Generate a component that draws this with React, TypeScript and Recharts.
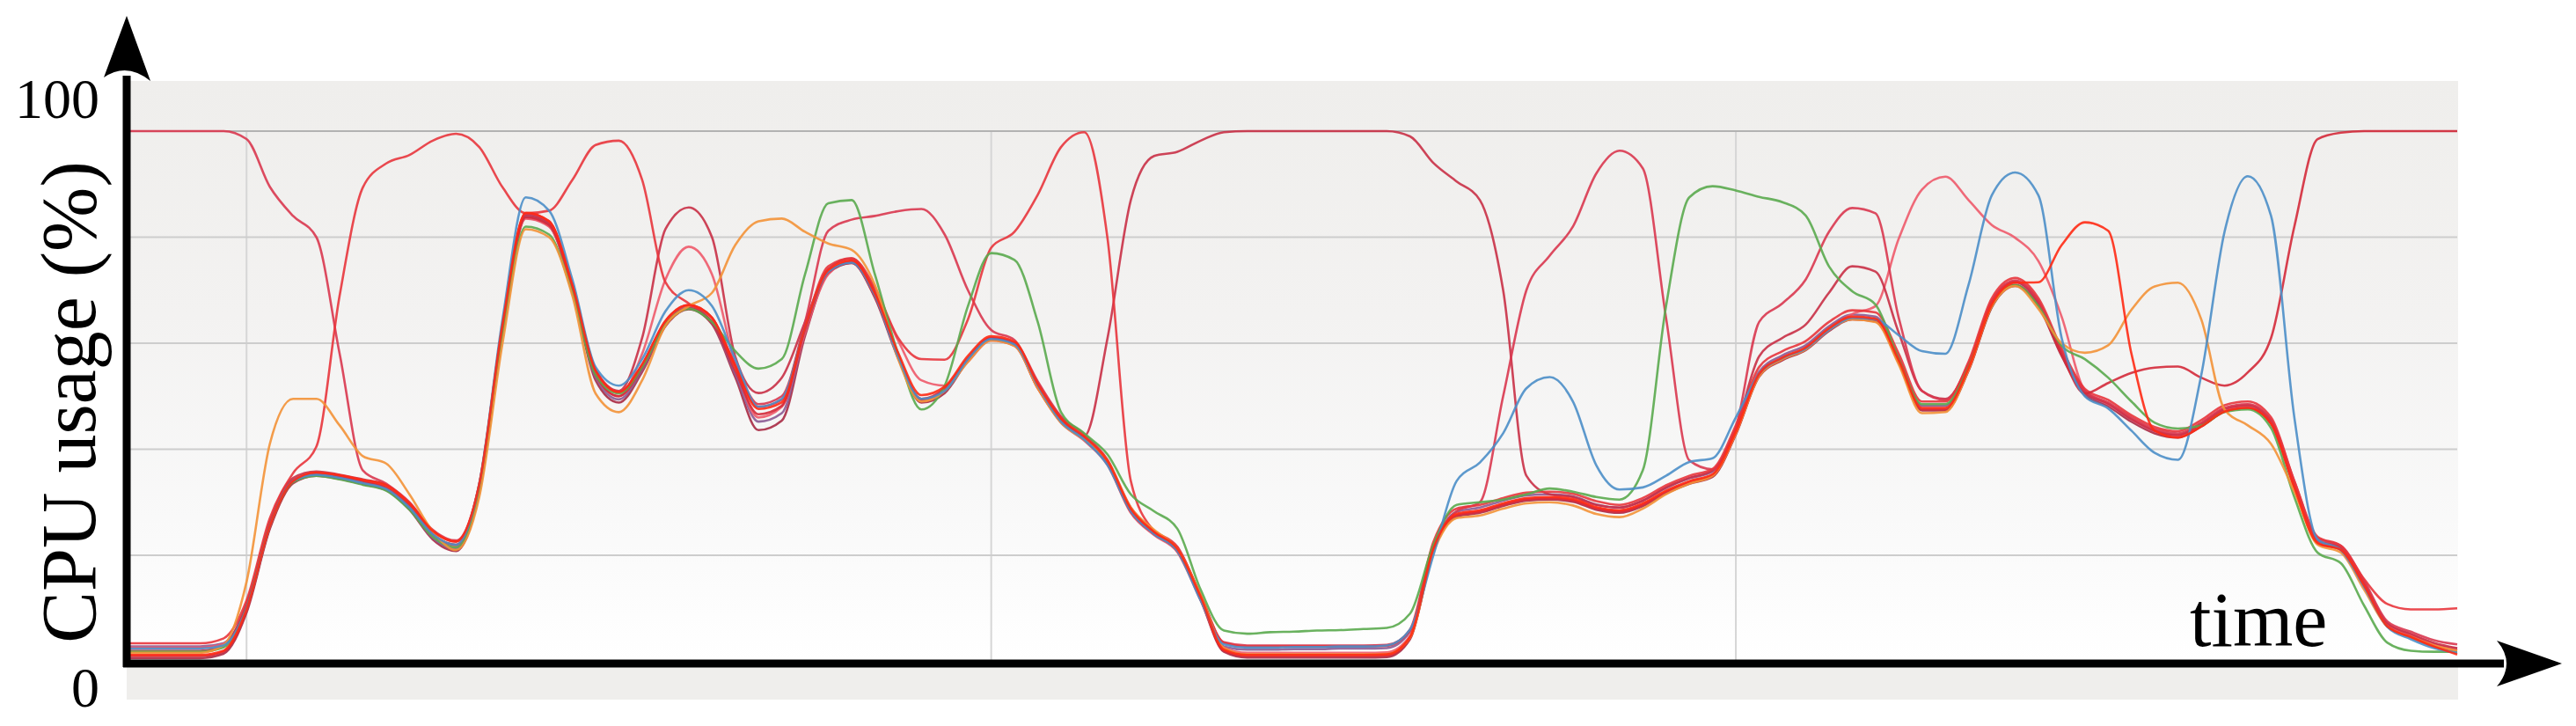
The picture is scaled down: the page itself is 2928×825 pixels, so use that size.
import { Line, LineChart, ReferenceLine, XAxis, YAxis } from "recharts";

// time index (0..100), vertical grid at 5 / 37 / 69
const time = Array.from({ length: 101 }, (_, i) => i);
const timeTicks = [5, 37, 69];
const usageTicks = [20, 40, 60, 80];

const blue = [
  2.4, 2.4, 2.4, 2.4, 3, 10, 25.5, 34, 35.2, 34.6,
  33.6, 32.5, 29, 24, 22, 33.5, 64.5, 87.5, 85, 72,
  55.5, 52, 57, 66, 70, 67, 57, 48, 49.5, 63,
  73.5, 75.2, 69, 57.5, 49.5, 51, 57, 60.8, 59.8, 52,
  45.2, 41.8, 37, 28.3, 24, 20.8, 11.5, 3.2, 2.6, 2.6,
  2.7, 2.7, 2.8, 2.8, 3, 6, 20, 34, 37.5, 43,
  51.5, 53.6, 49, 37, 32.4, 32.8, 35, 37.6, 38.3, 46,
  54.2, 57.2, 59, 62.5, 64.8, 64.5, 61.5, 58.5, 58, 71,
  87.9, 92.2, 87.9, 61, 50, 47.7, 43.5, 39.3, 38, 54,
  81, 91.5, 84, 46, 23, 21, 14, 6.5, 4.2, 2.5, 1.6,
];

const orange = [
  1.6, 1.6, 1.6, 1.6, 3, 15, 41, 49.5, 49.5, 44.5,
  38.7, 37.3, 31.5, 24.5, 21, 31, 60, 81.5, 80, 69,
  50.5, 47, 53, 63.3, 67, 69.5, 78.5, 83, 83.5, 81,
  78.8, 77.6, 71, 57, 49, 51, 56.5, 60.5, 59.5, 51.5,
  45, 41.8, 37.8, 29, 24.8, 21.2, 12.5, 2.5, 1.3, 1.3,
  1.3, 1.3, 1.3, 1.3, 1.4, 4.5, 20.5, 27, 27.5, 28.8,
  29.8, 30, 29.4, 27.8, 27.2, 28.8, 31.5, 33.5, 35, 43,
  53.8, 57, 58.8, 62.5, 64.5, 64, 56, 46.8, 47, 55,
  67, 70.8, 66.5, 60, 58.2, 59.6, 66.3, 70.7, 71.4, 64.5,
  47.5, 44.5, 41, 32, 22, 20.5, 13.5, 6.5, 4.6, 3, 2,
];

const green = [
  1.8, 1.8, 1.8, 1.8, 2.6, 10, 25.5, 33.8, 35, 34.3,
  33.3, 32.2, 28.6, 23.5, 21.5, 32, 61.5, 82, 80.5, 69.5,
  54, 50.5, 55.5, 63.5, 66.5, 64, 58.5, 55.2, 57, 73,
  86.4, 87, 73, 58, 47.5, 52, 67, 77, 75.7, 64,
  47, 43, 39, 31.5, 28.3, 25, 13.5, 5.8, 5.2, 5.5,
  5.6, 5.8, 5.9, 6.1, 6.3, 9, 22, 29.5, 30, 30.5,
  31.5, 32.6, 32, 31, 30.5, 36, 67, 87.5, 89.6, 88.8,
  87.6, 86.6, 84.1, 74.5, 69.8, 67.3, 57, 48.5, 48.5, 55.5,
  67, 71, 67, 59.5, 57, 53.5, 49, 45, 43.9, 44.5,
  47, 47.5, 44, 31, 20.5, 18.5, 10.5, 3.5, 2, 1.8, 1.8,
];

const redA = [
  100, 100, 100, 100, 100, 98.5, 89.5, 84, 80, 58,
  36, 33.5, 30, 24.8, 22.8, 33.5, 63.5, 84.5, 83, 71,
  55, 50.8, 56, 64.2, 67.2, 64.8, 56, 48.5, 50, 64,
  81.2, 83.3, 84, 84.9, 85.3, 80.5, 70, 62.5, 60.6, 52.8,
  46.2, 42.8, 38, 29, 24.6, 21.6, 12.5, 3.6, 3, 3,
  3, 3, 3, 3, 3.1, 5.8, 21.8, 28.3, 30, 50,
  70, 76.5, 82, 92, 96.3, 93, 64.8, 37.9, 36.2, 44,
  64, 67.5, 72, 81, 85.5, 84.5, 64.8, 51, 49.3, 56,
  68, 71.8, 68, 58.5, 51, 48.8, 46, 43.8, 43, 45,
  47.8, 48.5, 45.5, 34, 23.2, 21.8, 15.2, 7.5, 5.6, 4, 3.2,
];

const redB = [
  3.4, 3.4, 3.4, 3.4, 4.3, 11.5, 27, 35.5, 40.5, 69,
  89.4, 93.9, 95.5, 98.2, 99.5, 97, 89.4, 84.5, 85, 90.8,
  97.4, 98.2, 90.8, 71.5, 67.5, 64.8, 55.8, 48, 49.3, 63.2,
  74.5, 76, 70.5, 61, 57, 56.9, 64.5, 78, 81, 88,
  97, 99.8, 79.7, 34, 24.5, 21.5, 12.5, 3.5, 2.8, 2.8,
  2.8, 2.8, 2.8, 2.8, 2.9, 6, 22.5, 28.8, 29.5, 30.8,
  31.8, 32, 31.6, 30.2, 29.5, 30.8, 33.2, 35, 36.3, 44.5,
  55.5, 58.5, 60.4, 64, 66.2, 65.8, 58, 49, 49, 56.5,
  68.5, 72.3, 68.5, 59, 51.4, 49.3, 46.4, 44.2, 43.4, 45.5,
  48.3, 49, 46, 34, 23.5, 21.8, 15.5, 10.8, 9.8, 9.8, 10,
];

const redC = [
  2, 2, 2, 2, 2.9, 10.8, 26.3, 34.6, 35.8, 35.2,
  34.3, 33.3, 29.8, 24.6, 22.6, 33.3, 63.3, 84.3, 82.8, 71,
  55, 51, 61, 81.5, 85.6, 80, 57.5, 50.6, 53.5, 64,
  74, 76, 69.5, 57.5, 49.5, 51.5, 57, 61, 60, 52.5,
  46, 42.5, 61, 87, 95.3, 96.1, 98.2, 99.8, 100, 100,
  100, 100, 100, 100, 100, 99, 94, 90.5, 87, 70,
  35, 31.5, 31, 29.5, 29, 30.3, 32.8, 34.6, 36, 44,
  57.5, 61, 63.5, 69.5, 74.5, 73.5, 62, 51, 49.5, 56,
  67.8, 71.6, 67.8, 58.3, 50.7, 48.6, 45.7, 43.5, 42.7, 44.8,
  47.6, 48.3, 45.3, 33.3, 22.8, 21.5, 14.8, 7.2, 5.2, 3.5, 2.5,
];

const redD = [
  2.6, 2.6, 2.6, 2.6, 3.3, 10.2, 25.8, 34, 35.3, 34.6,
  33.7, 32.7, 29.2, 23.8, 21.7, 32.5, 62.5, 83.5, 82, 70.3,
  54, 50, 58, 72, 78.2, 73, 56, 46, 48, 62,
  73, 75.5, 70, 60.5, 53, 52, 56.5, 60.5, 59.5, 51.5,
  45, 41.6, 37, 28, 23.8, 20.6, 11.5, 2.6, 1.6, 1.6,
  1.6, 1.6, 1.6, 1.6, 1.7, 4.8, 21, 27.6, 28.3, 29.6,
  30.6, 30.8, 30.4, 28.9, 28.3, 29.6, 32, 33.8, 35.1, 43,
  54, 57.1, 59, 62.6, 65.5, 67, 79.7, 89, 91.4, 87,
  82.3, 79.9, 75.5, 65, 51, 48.5, 45.6, 43.4, 42.6, 44.7,
  47.5, 48.2, 45.2, 33.2, 22.7, 21.4, 14.7, 7, 5, 3.2, 2.2,
];

const redE = [
  1.2, 1.2, 1.2, 1.2, 2, 9.8, 25.5, 34, 35.6, 35.1,
  34.2, 33.2, 29.8, 24.6, 22.6, 33.4, 63.5, 84.6, 83, 71,
  54.8, 50.8, 56, 64.2, 67.2, 64.8, 55.6, 47.6, 48.8, 63,
  73.8, 75.6, 69.4, 58.2, 50.2, 51.8, 57.6, 61.3, 60.3, 52.3,
  45.8, 42.4, 37.8, 28.8, 24.4, 21.2, 12.2, 2.2, 1.2, 1.2,
  1.2, 1.2, 1.2, 1.2, 1.3, 4.6, 21.2, 27.8, 28.5, 29.8,
  30.8, 31, 30.6, 29.1, 28.5, 29.8, 32.2, 34, 35.3, 43.3,
  54.2, 57.3, 59.2, 62.8, 65, 64.6, 56.8, 47.8, 47.8, 55.3,
  67.3, 71.4, 71.5, 78.5, 82.8, 81.2, 58, 43.5, 42.2, 44.3,
  47.1, 47.8, 44.8, 32.8, 22.3, 21, 14.3, 6.6, 4.6, 2.8, 1.3,
];

const redH = [
  1, 1, 1, 1, 1.8, 9.6, 25.2, 33.8, 35.3, 34.8,
  33.9, 32.8, 29.3, 24, 22, 32.8, 62.8, 83.8, 82.3, 70.4,
  54, 50, 55.4, 63.6, 66.6, 64, 54.8, 46.6, 48.2, 62.6,
  73.4, 75.2, 68.8, 57.6, 49.3, 51, 56.9, 60.7, 59.7, 51.6,
  45.2, 41.8, 37.2, 28.2, 24, 20.8, 11.8, 2, 1, 1,
  1, 1, 1, 1, 1.1, 4.4, 21, 27.5, 28.2, 29.5,
  30.5, 30.7, 30.3, 28.8, 28.2, 29.5, 31.9, 33.7, 35, 43,
  53.9, 57, 58.9, 62.5, 64.7, 64.3, 56.5, 47.5, 47.5, 55,
  67, 71, 67.2, 57.8, 50.5, 52.5, 54.4, 55.4, 55.6, 53.5,
  52, 54.5, 61, 82, 98.5, 99.7, 100, 100, 100, 100, 100,
];

const purple = [
  2.8, 2.8, 2.8, 2.8, 3.4, 10.4, 25.8, 34.2, 35.4, 34.8,
  33.8, 32.6, 28.8, 23.3, 21.2, 32.4, 62.8, 84, 82.6, 70.5,
  53.6, 49.4, 55, 63.6, 66.8, 64, 54.2, 45.2, 46.8, 62,
  73.4, 75.3, 69, 57.6, 49.4, 51.2, 57.2, 61, 60, 52,
  45.6, 42.2, 37.6, 28.6, 24.3, 21.1, 11.8, 2.8, 2.2, 2.2,
  2.3, 2.3, 2.4, 2.4, 2.5, 5.6, 21.6, 28.2, 29, 30.3,
  31.3, 31.5, 31.1, 29.6, 29, 30.3, 32.7, 34.5, 35.8, 43.8,
  54.6, 57.7, 59.6, 63.2, 65.4, 65, 57.2, 48.2, 48.2, 55.7,
  67.7, 71.5, 67.7, 58.2, 50.6, 48.5, 45.6, 43.4, 42.6, 44.7,
  47.5, 48.2, 45.2, 33.2, 22.7, 21.4, 14.7, 7, 5, 3.2, 2.4,
];

const darkRed = [
  0.6, 0.6, 0.6, 0.6, 1.4, 9.2, 25, 33.6, 35, 34.4,
  33.4, 32.3, 28.6, 23, 20.8, 32, 62.4, 83.6, 82.1, 70,
  53, 48.8, 54.6, 63.2, 66.4, 63.6, 53.6, 43.6, 45.4, 61.4,
  73.2, 75.1, 68.6, 57.2, 48.8, 50.6, 56.7, 60.6, 59.6, 51.6,
  45.3, 41.9, 37.3, 28.3, 24.1, 20.9, 11.6, 1.8, 0.7, 0.7,
  0.7, 0.7, 0.7, 0.7, 0.8, 4.2, 20.8, 27.3, 28, 29.3,
  30.3, 30.5, 30.1, 28.6, 28, 29.3, 31.7, 33.5, 34.8, 42.8,
  53.7, 56.8, 58.7, 62.3, 64.5, 64.1, 56.3, 47.3, 47.3, 54.8,
  66.8, 70.8, 67, 57.6, 50.2, 48.1, 45.2, 43, 42.2, 44.3,
  47.1, 47.8, 44.8, 32.8, 22.3, 21, 14.3, 6.6, 4.6, 2.8, 2,
];

const series = [
  { key: "darkRed", values: darkRed, color: "#a92a44" },
  { key: "purple", values: purple, color: "#8b5a94" },
  { key: "redD", values: redD, color: "#ee5a6a" },
  { key: "redC", values: redC, color: "#c93046" },
  { key: "redA", values: redA, color: "#d9374f" },
  { key: "redB", values: redB, color: "#e8353c" },
  { key: "redH", values: redH, color: "#d42a3a" },
  { key: "green", values: green, color: "#5aaa4e" },
  { key: "orange", values: orange, color: "#f39237" },
  { key: "blue", values: blue, color: "#4b8ec8" },
  { key: "redE", values: redE, color: "#ff2a14" },
];

const rows = time.map((t, i) => {
  const row: Record<string, number> = { t };
  series.forEach((s) => {
    row[s.key] = s.values[i];
  });
  return row;
});

const serif = '"Liberation Serif", "Times New Roman", serif';

export default function App() {
  return (
    <div style={{ position: "absolute", left: 0, top: 0, width: 2928, height: 825, background: "#fff" }}>
      {/* panel background */}
      <div
        style={{
          position: "absolute",
          left: 144,
          top: 92,
          width: 2650,
          height: 662,
          background: "linear-gradient(#efeeec 0%, #f3f2f1 40%, #f9f9f9 75%, #ffffff 100%)",
        }}
      />
      <div style={{ position: "absolute", left: 144, top: 754, width: 2650, height: 41, background: "#efeeec" }} />

      <div style={{ position: "absolute", left: 0, top: 0 }}>
        <LineChart width={2928} height={825} data={rows} margin={{ top: 149, right: 135, bottom: 73.5, left: 148 }}>
          <XAxis
            dataKey="t"
            type="number"
            domain={[0, 100]}
            ticks={timeTicks}
            height={0}
            tick={false}
            axisLine={false}
            tickLine={false}
          />
          <YAxis domain={[0, 100]} width={0} tick={false} axisLine={false} tickLine={false} />
          {timeTicks.map((t) => (
            <ReferenceLine key={`v${t}`} x={t} stroke="#d6d6d6" strokeWidth={2} />
          ))}
          {usageTicks.map((v) => (
            <ReferenceLine key={`h${v}`} y={v} stroke="#cdcdcd" strokeWidth={2} />
          ))}
          <ReferenceLine y={100} stroke="#b2b2b2" strokeWidth={2} />
          {series.map((s) => (
            <Line
              key={s.key}
              dataKey={s.key}
              type="monotone"
              stroke={s.color}
              strokeWidth={2.6}
              strokeOpacity={0.9}
              dot={false}
              activeDot={false}
              isAnimationActive={false}
            />
          ))}
        </LineChart>
      </div>

      {/* axes with arrows and labels */}
      <svg width={2928} height={825} style={{ position: "absolute", left: 0, top: 0, pointerEvents: "none" }}>
        <line x1={144} y1={86} x2={144} y2={758} stroke="#000" strokeWidth={9} />
        <path d="M144,18 L171,92 Q144,70 118,88 Z" fill="#000" />
        <line x1={140} y1={754} x2={2846} y2={754} stroke="#000" strokeWidth={9} />
        <path d="M2912,754 L2838,780 Q2860,754 2838,728 Z" fill="#000" />
        <text x={113} y={134} textAnchor="end" fontFamily={serif} fontSize={64} fill="#000">
          100
        </text>
        <text x={113} y={803} textAnchor="end" fontFamily={serif} fontSize={64} fill="#000">
          0
        </text>
        <text
          x={108}
          y={457}
          transform="rotate(-90 108 457)"
          textAnchor="middle"
          fontFamily={serif}
          fontSize={88}
          fill="#000"
        >
          CPU usage (%)
        </text>
        <text x={2489} y={734} fontFamily={serif} fontSize={88} fill="#000">
          time
        </text>
      </svg>
    </div>
  );
}
